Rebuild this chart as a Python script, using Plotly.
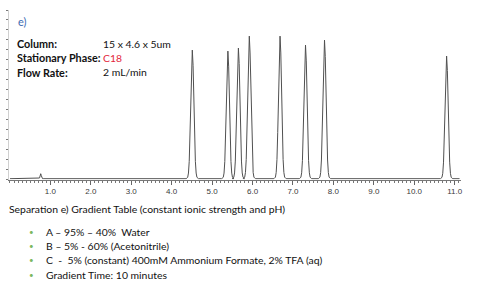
import plotly.graph_objects as go

# ---- data ----
peak_times = [0.76, 4.51, 5.39, 5.65, 5.92, 6.68, 7.31, 7.78, 10.80]   # min
peak_heights = [5, 129, 128, 131, 143, 143, 134, 139, 123]               # signal (a.u.)
peak_sigma = [0.015, 0.038, 0.038, 0.038, 0.038, 0.038, 0.038, 0.038, 0.038]  # min
baseline_level = 0.8
run_end = 11.12
# Gaussian-like profile samples (offset in sigma, fraction of height)
shape_offsets = [-4.0, -3.0, -2.5, -2.0, -1.5, -1.0, -0.5, 0.0, 0.5, 1.0, 1.5, 2.0, 2.5, 3.0, 4.0]
shape_fracs = [0.0, 0.011, 0.044, 0.135, 0.325, 0.607, 0.882, 1.0, 0.882, 0.607, 0.325, 0.135, 0.044, 0.011, 0.0]

tick_vals = [1, 2, 3, 4, 5, 6, 7, 8, 9, 10, 11]
tick_text = ["1.0", "2.0", "3.0", "4.0", "5.0", "6.0", "7.0", "8.0", "9.0", "10.0", "11.0"]

info_labels = ["Column:", "Stationary Phase:", "Flow Rate:"]
info_values = ["15 x 4.6 x 5um", "C18", "2 mL/min"]
info_colors = ["#111111", "#e3263b", "#111111"]
caption = "Separation e) Gradient Table (constant ionic strength and pH)"
bullets = [
    "A – 95% – 40%  Water",
    "B – 5% - 60% (Acetonitrile)",
    "C  -  5% (constant) 400mM Ammonium Formate, 2% TFA (aq)",
    "Gradient Time: 10 minutes",
]

# ---- build trace ----
xs, ys = [0.0], [baseline_level]
for t, h, s in zip(peak_times, peak_heights, peak_sigma):
    for o, f in zip(shape_offsets, shape_fracs):
        xs.append(t + o * s)
        ys.append(baseline_level + h * f)
xs.append(run_end)
ys.append(baseline_level)

W, H = 500, 290
FONT = "Lato"
REG = 10.4
BOLD = 10.8

fig = go.Figure()
fig.add_trace(go.Scatter(x=xs, y=ys, mode="lines",
                         line=dict(color="#505050", width=1), hoverinfo="skip",
                         showlegend=False))

fig.update_layout(
    width=W, height=H,
    margin=dict(l=0, r=0, t=0, b=0),
    paper_bgcolor="white", plot_bgcolor="white",
    font=dict(family=FONT, color="#111111"),
    xaxis=dict(domain=[9 / W, 463 / W], range=[-0.025, 11.16],
               showgrid=False, zeroline=False,
               showline=True, linecolor="#777777", linewidth=1,
               tickmode="array", tickvals=tick_vals, ticktext=tick_text,
               ticks="outside", ticklen=4, tickcolor="#666666",
               tickfont=dict(size=8, color="#3a3a3a", family="Liberation Sans"),
               minor=dict(dtick=0.1, ticks="outside", ticklen=2, tickcolor="#777777")),
    yaxis=dict(domain=[(H - 179.5) / H, (H - 10) / H], range=[0, 170],
               showgrid=False, zeroline=False,
               showline=True, linecolor="#d0d0d0", linewidth=1,
               ticks="outside", ticklen=2, tickcolor="#777777",
               dtick=10, showticklabels=False),
)

ann = []
ann.append(dict(x=16 / W, y=1 - 21 / H, text="e)", font=dict(size=11, color="#3d6bb3")))
rows_y = [44, 58, 72]
for lab, val, col, py in zip(info_labels, info_values, info_colors, rows_y):
    ann.append(dict(x=15 / W, y=1 - py / H, text="<b>" + lab + "</b>",
                    font=dict(size=BOLD, color="#111111")))
    ann.append(dict(x=101 / W, y=1 - py / H, text=val, font=dict(size=REG, color=col)))
ann.append(dict(x=7 / W, y=1 - 209 / H, text=caption, font=dict(size=REG, color="#111111")))
bullet_y = [232, 246, 260, 275]
for b, py in zip(bullets, bullet_y):
    ann.append(dict(x=27 / W, y=1 - py / H, text="•", font=dict(size=8, color="#7cb860")))
    ann.append(dict(x=44 / W, y=1 - py / H, text=b, font=dict(size=REG, color="#111111")))

for a in ann:
    a.update(xref="paper", yref="paper", xanchor="left", yanchor="middle",
             showarrow=False)
    a["font"]["family"] = FONT
fig.update_layout(annotations=ann)

fig.write_html("out.html")
